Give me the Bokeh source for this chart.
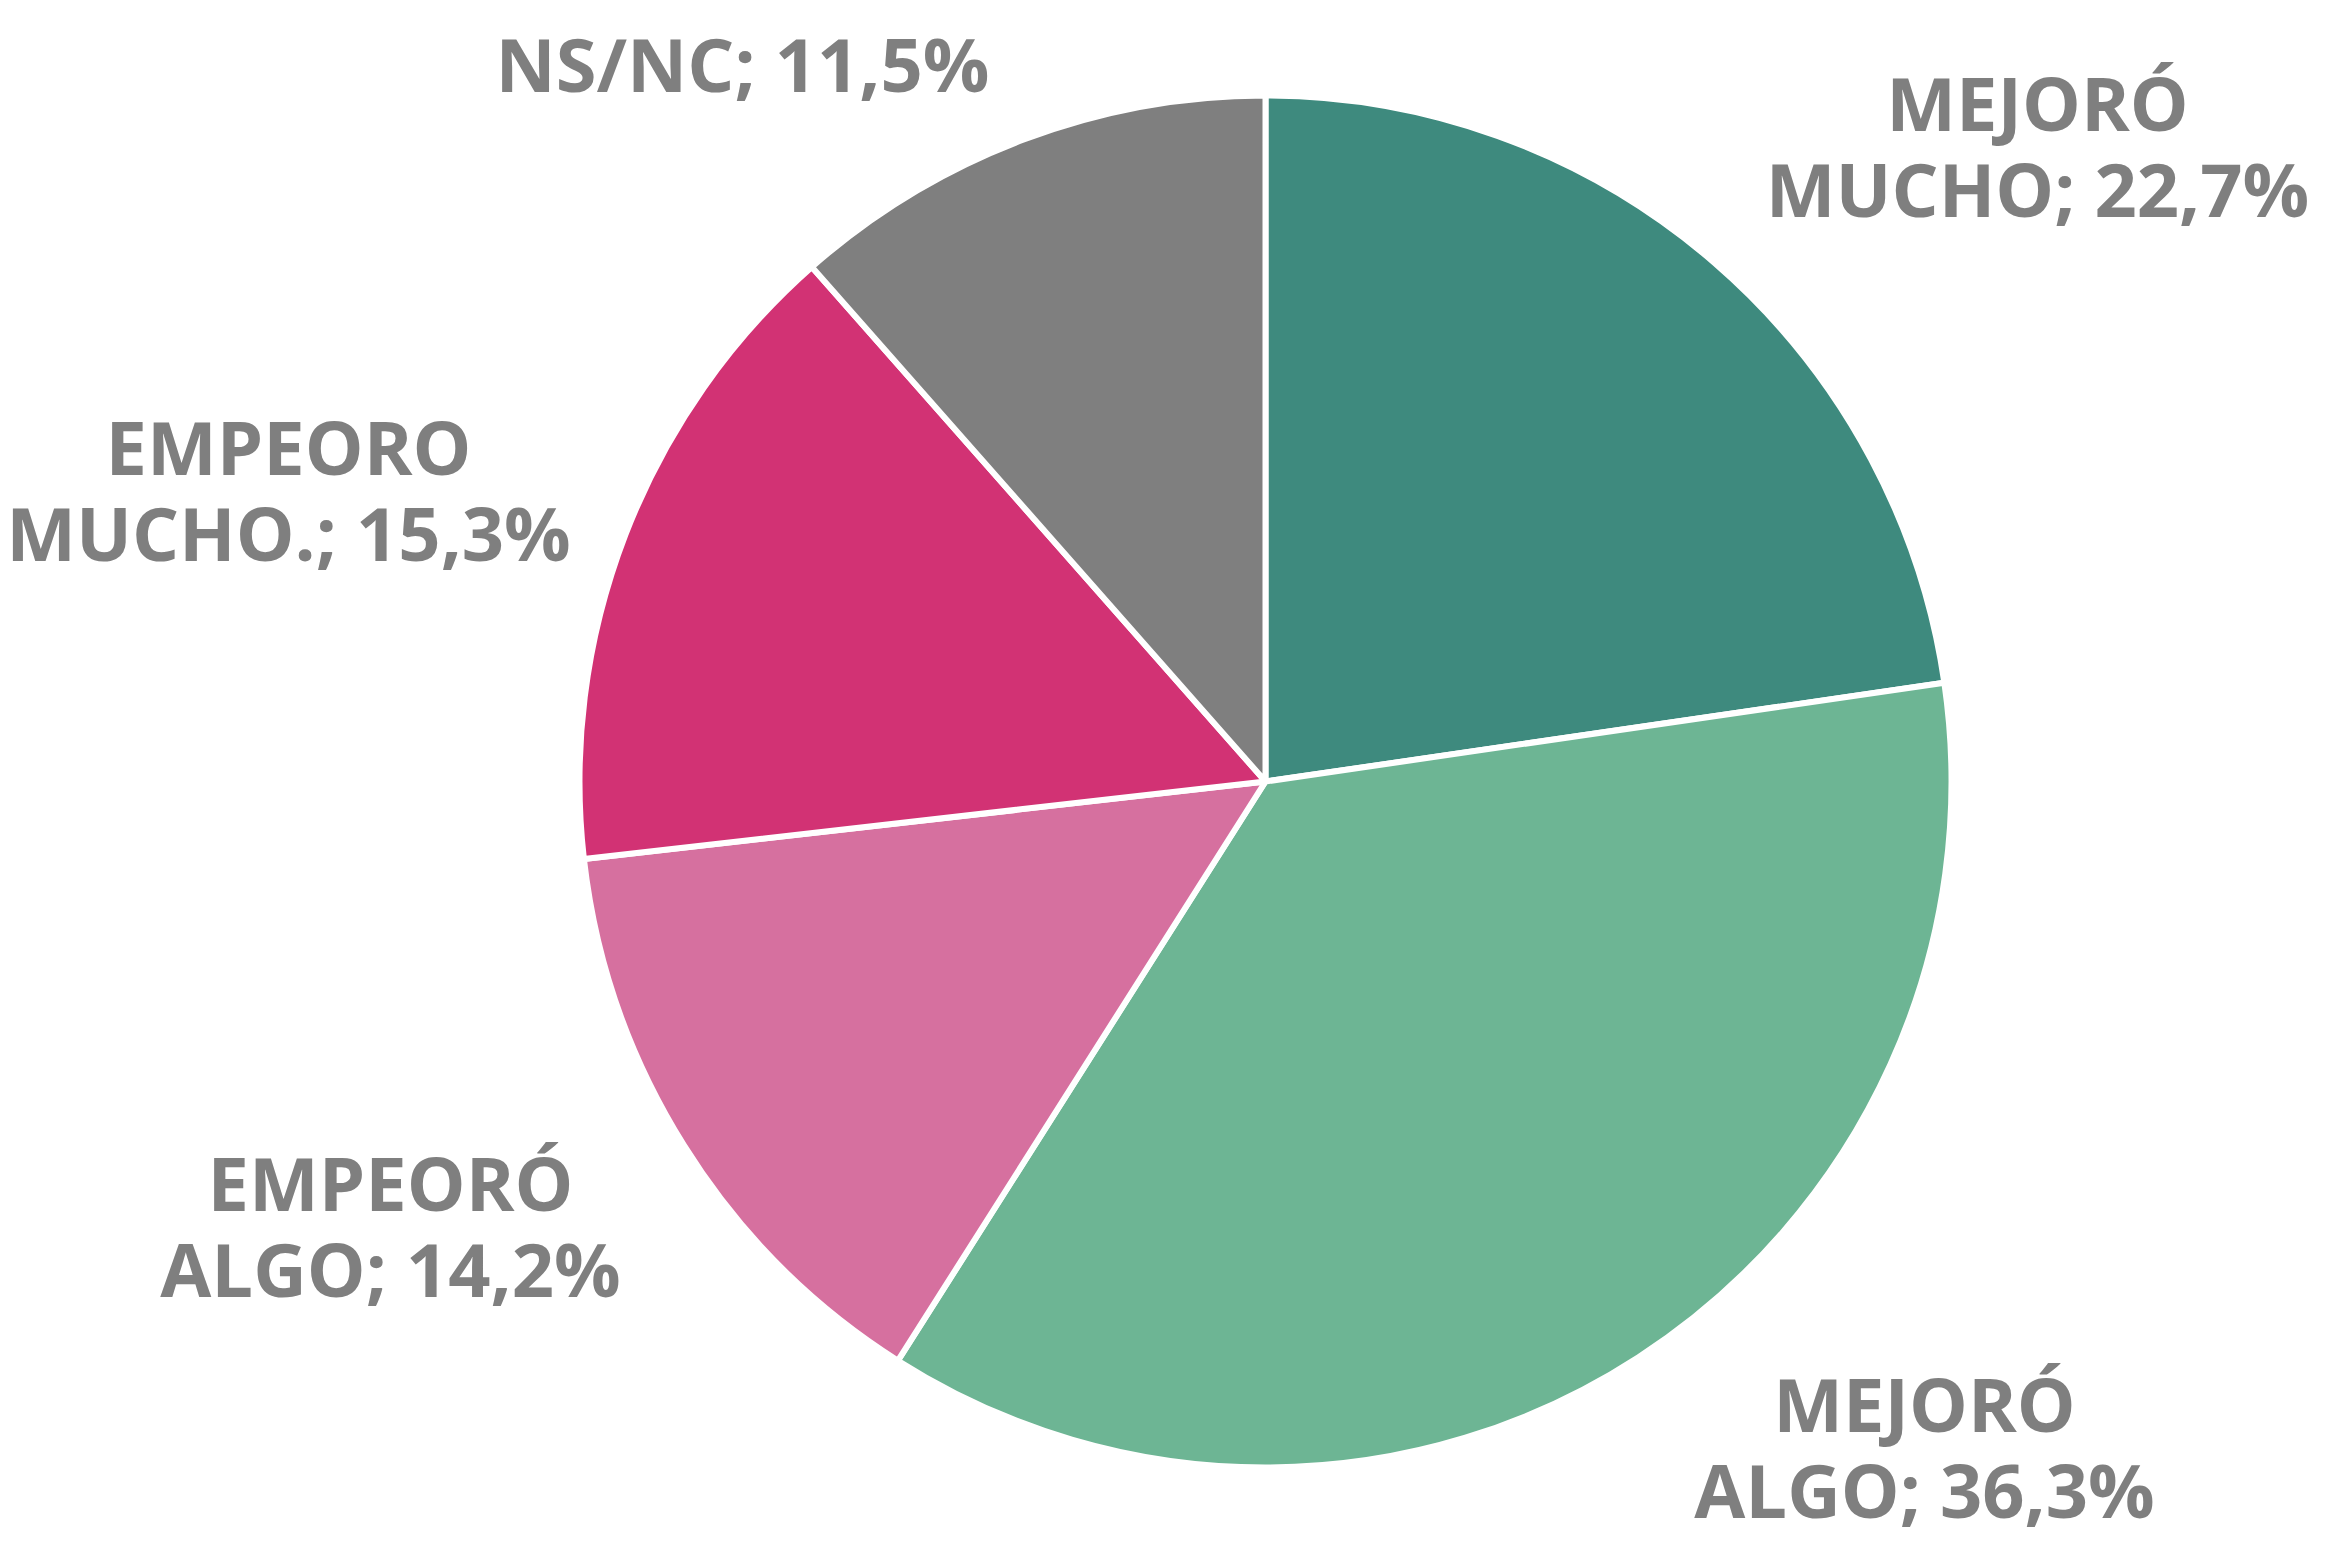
import math
from bokeh.plotting import figure
from bokeh.models import Range1d, ColumnDataSource
from bokeh.core.properties import value
from bokeh.embed import file_html
from bokeh.resources import INLINE

# ---- data ----
categories = ["MEJORÓ\nMUCHO", "MEJORÓ\nALGO", "EMPEORÓ\nALGO", "EMPEORO\nMUCHO.", "NS/NC"]
shares = [22.7, 36.3, 14.2, 15.3, 11.5]
colors = ["#3E8A7E", "#6DB594", "#D6709F", "#D23274", "#7F7F7F"]

# ---- layout (page pixels) ----
W, H = 2323, 1550
CX, CY, R = 1265, 781, 686
label_pos = [(2037, 145), (1924, 1446), (390, 1225), (288, 489), (742, 63)]
LINE_GAP = 86

def py(y):  # page y -> data y
    return H - y

total = sum(shares)
starts, ends = [], []
acc = 0.0
for s in shares:
    starts.append(math.pi / 2 - acc / total * 2 * math.pi)
    acc += s
    ends.append(math.pi / 2 - acc / total * 2 * math.pi)

src = ColumnDataSource(dict(x=[CX] * len(shares), y=[py(CY)] * len(shares),
                            start=starts, end=ends, color=colors))

p = figure(width=W, height=H, output_backend="svg", toolbar_location=None,
           x_range=Range1d(0, W), y_range=Range1d(0, H),
           min_border=0)
p.axis.visible = False
p.grid.visible = False
p.outline_line_color = None
p.background_fill_color = "white"
p.border_fill_color = "white"

p.wedge(x="x", y="y", radius=R, start_angle="start", end_angle="end",
        direction="clock", fill_color="color", line_color="white",
        line_width=6, source=src)

tx, ty, tt = [], [], []
for c, s, (lx, ly) in zip(categories, shares, label_pos):
    lines = f"{c}; {str(s).replace('.', ',')}%".split("\n")
    n = len(lines)
    for i, line in enumerate(lines):
        tx.append(lx)
        ty.append(py(ly + (i - (n - 1) / 2) * LINE_GAP))
        tt.append(line)

lsrc = ColumnDataSource(dict(x=tx, y=ty, text=tt))
p.text(x="x", y="y", text="text", source=lsrc, text_align="center",
       text_baseline="middle", text_font=value("Open Sans"),
       text_font_style="bold", text_font_size="74px", text_color="#7F7F7F")

open("out.html", "w").write(file_html(p, INLINE))
